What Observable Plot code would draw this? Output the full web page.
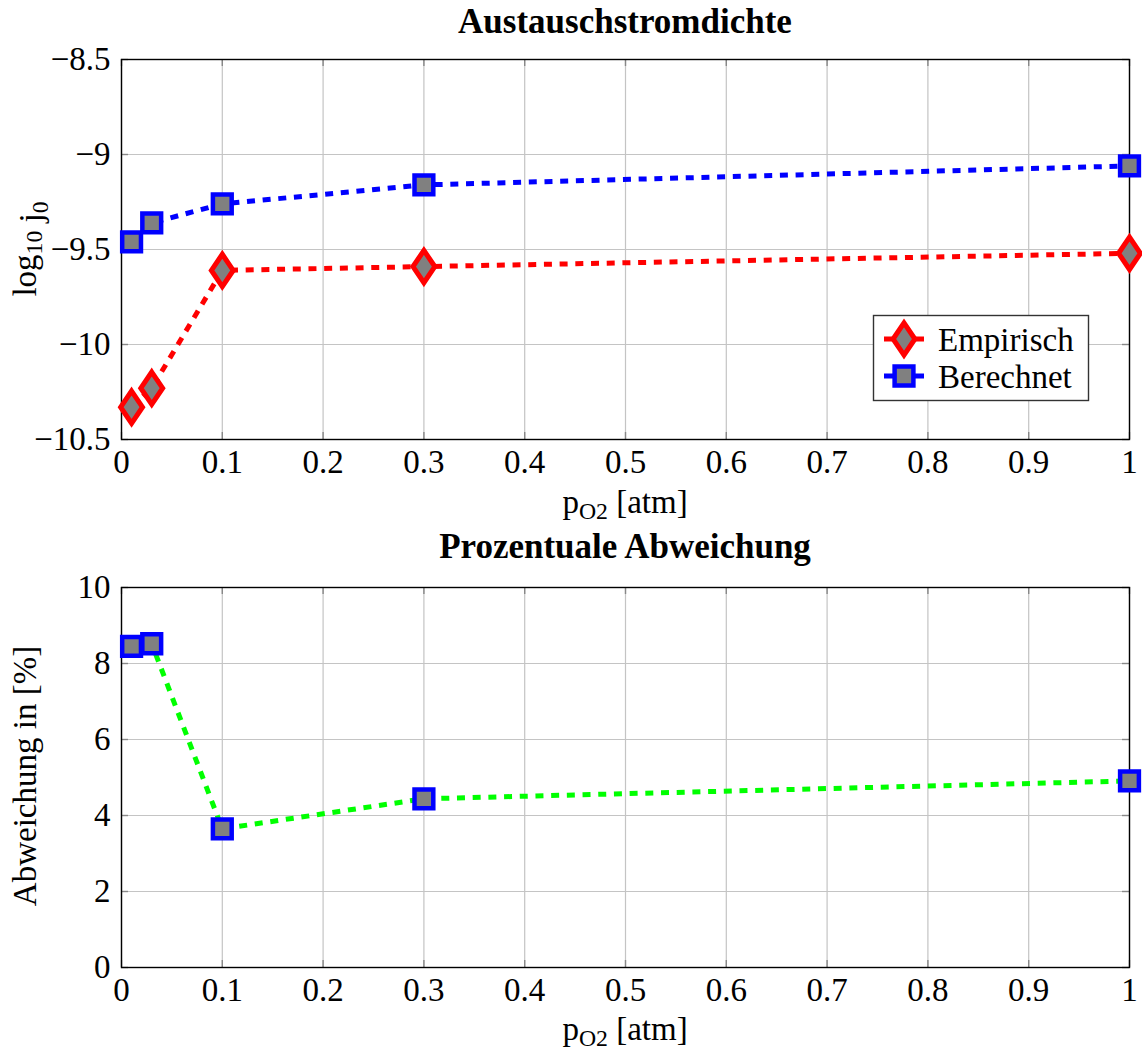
<!DOCTYPE html>
<html>
<head>
<meta charset="utf-8">
<script src="https://cdn.jsdelivr.net/npm/d3@7"></script>
<script src="https://cdn.jsdelivr.net/npm/@observablehq/plot@0.6"></script>
<style>
  body { margin: 0; background: #fff; }
  #chart { position: relative; width: 1142px; height: 1054px; font-family: "Liberation Serif", serif; }
  #chart svg { display: block; }
</style>
</head>
<body>
<div id="chart"></div>
<script>
// Oxygen partial pressure p_O2 [atm]
const pO2 = [0.01, 0.03, 0.1, 0.3, 1];
// log10 of the exchange current density
const empirisch = [-10.33, -10.23, -9.61, -9.59, -9.52];
const berechnet = [-9.46, -9.36, -9.26, -9.16, -9.06];
// Percentage deviation between the two
const abweichung = [8.45, 8.52, 3.65, 4.44, 4.91];

const xTicks = [0, 0.1, 0.2, 0.3, 0.4, 0.5, 0.6, 0.7, 0.8, 0.9, 1];
const yTicksTop = [-10.5, -10, -9.5, -9, -8.5];
const yTicksBottom = [0, 2, 4, 6, 8, 10];

const titleTop = "Austauschstromdichte";
const titleBottom = "Prozentuale Abweichung";
const legendLabels = ["Empirisch", "Berechnet"];

const FONT = "Liberation Serif, serif";
const FS = 33;          // tick labels, axis labels, legend
const FS_TITLE = 35;
const W = 1142, H = 527;
const ML = 121, MR = 13;
const INNER_H = 380;
const TICK = 7;
const DASH = "8 7.7";
const LW = 5;

// Diamond marker, taller than wide
const diamond = {
  draw(ctx, size) {
    const r = Math.sqrt(size / Math.PI);
    const h = 1.7 * r, w = 1.15 * r;
    ctx.moveTo(0, -h); ctx.lineTo(w, 0); ctx.lineTo(0, h); ctx.lineTo(-w, 0); ctx.closePath();
  }
};

const fmtX = d => (d === 0 || d === 1) ? String(d) : d.toFixed(1);
const fmtY = d => String(d).replace("-", "\u2212");

const topData = pO2.map((x, i) => ({x, emp: empirisch[i], ber: berechnet[i]}));
const botData = pO2.map((x, i) => ({x, dev: abweichung[i]}));

function frameMarks(yTicks) {
  const innerW = W - ML - MR;
  return [
    Plot.gridX(xTicks, {stroke: "#c4c4c4", strokeOpacity: 1, strokeWidth: 1.2}),
    Plot.gridY(yTicks, {stroke: "#c4c4c4", strokeOpacity: 1, strokeWidth: 1.2}),
    Plot.tickX(xTicks, {x: d => d, stroke: "#888", strokeWidth: 1.4, insetTop: INNER_H - TICK}),
    Plot.tickX(xTicks, {x: d => d, stroke: "#888", strokeWidth: 1.4, insetBottom: INNER_H - TICK}),
    Plot.tickY(yTicks, {y: d => d, stroke: "#888", strokeWidth: 1.4, insetRight: innerW - TICK}),
    Plot.tickY(yTicks, {y: d => d, stroke: "#888", strokeWidth: 1.4, insetLeft: innerW - TICK}),
    Plot.frame({stroke: "black", strokeWidth: 1.4}),
    Plot.axisX({ticks: xTicks, tickFormat: fmtX, tickSize: 0, tickPadding: 10, fontSize: FS, label: null}),
    Plot.axisY({ticks: yTicks, tickFormat: fmtY, tickSize: 0, tickPadding: 11, fontSize: FS, label: null})
  ];
}

const lineStyle = {strokeWidth: LW, strokeDasharray: DASH, strokeLinecap: "butt", strokeLinejoin: "miter"};

const common = {
  width: W, height: H, marginLeft: ML, marginRight: MR,
  x: {domain: [0, 1]},
  style: {fontFamily: FONT, fontSize: FS + "px", color: "black", background: "white", overflow: "visible"}
};

const plotTop = Plot.plot({
  ...common,
  marginTop: 59, marginBottom: 88,
  y: {domain: [-10.5, -8.5]},
  marks: [
    ...frameMarks(yTicksTop),
    Plot.line(topData, {x: "x", y: "emp", stroke: "red", ...lineStyle}),
    Plot.line(topData, {x: "x", y: "ber", stroke: "blue", ...lineStyle}),
    Plot.dot(topData, {x: "x", y: "emp", symbol: diamond, r: 9.5, fill: "gray", stroke: "red", strokeWidth: 5}),
    Plot.dot(topData, {x: "x", y: "ber", symbol: "square", r: 10.6, fill: "gray", stroke: "blue", strokeWidth: 4.5})
  ]
});

const plotBot = Plot.plot({
  ...common,
  marginTop: 60, marginBottom: 87,
  y: {domain: [0, 10]},
  marks: [
    ...frameMarks(yTicksBottom),
    Plot.line(botData, {x: "x", y: "dev", stroke: "#00ff00", ...lineStyle}),
    Plot.dot(botData, {x: "x", y: "dev", symbol: "square", r: 10.6, fill: "gray", stroke: "blue", strokeWidth: 4.5})
  ]
});

// Title, axis labels (with subscripts) drawn into each SVG
function decorate(svg, title, titleY, yLabelParts, xLabelY) {
  const s = d3.select(svg);
  const cx = ML + (W - ML - MR) / 2;
  s.append("text").attr("x", cx).attr("y", titleY).attr("text-anchor", "middle")
    .attr("font-family", FONT).attr("font-size", FS_TITLE).attr("font-weight", "bold").text(title);

  // x label: p_O2 [atm]
  const xl = s.append("text").attr("x", cx).attr("y", xLabelY).attr("text-anchor", "middle")
    .attr("font-family", FONT).attr("font-size", FS);
  xl.append("tspan").text("p");
  xl.append("tspan").attr("font-size", FS * 0.72).attr("dy", 6).text("O2");
  xl.append("tspan").attr("dy", -6).text(" [atm]");

  // y label, rotated
  const yl = s.append("text").attr("transform", `translate(36,${59 + INNER_H / 2}) rotate(-90)`)
    .attr("text-anchor", "middle").attr("font-family", FONT).attr("font-size", FS);
  for (const p of yLabelParts) {
    if (p.sub) {
      yl.append("tspan").attr("font-size", FS * 0.72).attr("dy", 6).text(p.t);
      yl.append("tspan").attr("dy", -6).text("");
    } else {
      yl.append("tspan").text(p.t);
    }
  }
}

decorate(plotTop, titleTop, 33, [{t: "log"}, {t: "10", sub: true}, {t: " j"}, {t: "0", sub: true}], 513);
decorate(plotBot, titleBottom, 31, [{t: "Abweichung in [%]"}], 513);

// Legend inside the upper panel
(function legend(svg) {
  const s = d3.select(svg);
  const g = s.append("g").attr("text-anchor", "start");
  g.append("rect").attr("x", 873.5).attr("y", 315.5).attr("width", 215).attr("height", 85)
    .attr("fill", "white").attr("stroke", "#333").attr("stroke-width", 1.4);
  const items = [
    {label: legendLabels[0], color: "red", sym: diamond, r: 9.5, sw: 5, y: 339},
    {label: legendLabels[1], color: "blue", sym: d3.symbolSquare, r: 10.6, sw: 4.5, y: 376}
  ];
  for (const it of items) {
    g.append("line").attr("x1", 884).attr("x2", 924).attr("y1", it.y).attr("y2", it.y)
      .attr("stroke", it.color).attr("stroke-width", LW);
    g.append("path").attr("transform", `translate(904,${it.y})`)
      .attr("d", d3.symbol(it.sym, Math.PI * it.r * it.r)())
      .attr("fill", "gray").attr("stroke", it.color).attr("stroke-width", it.sw);
    g.append("text").attr("x", 938).attr("y", it.y).attr("dy", "0.35em").attr("text-anchor", "start")
      .attr("font-family", FONT).attr("font-size", FS).text(it.label);
  }
})(plotTop);

const chart = document.getElementById("chart");
chart.append(plotTop, plotBot);
</script>
</body>
</html>
